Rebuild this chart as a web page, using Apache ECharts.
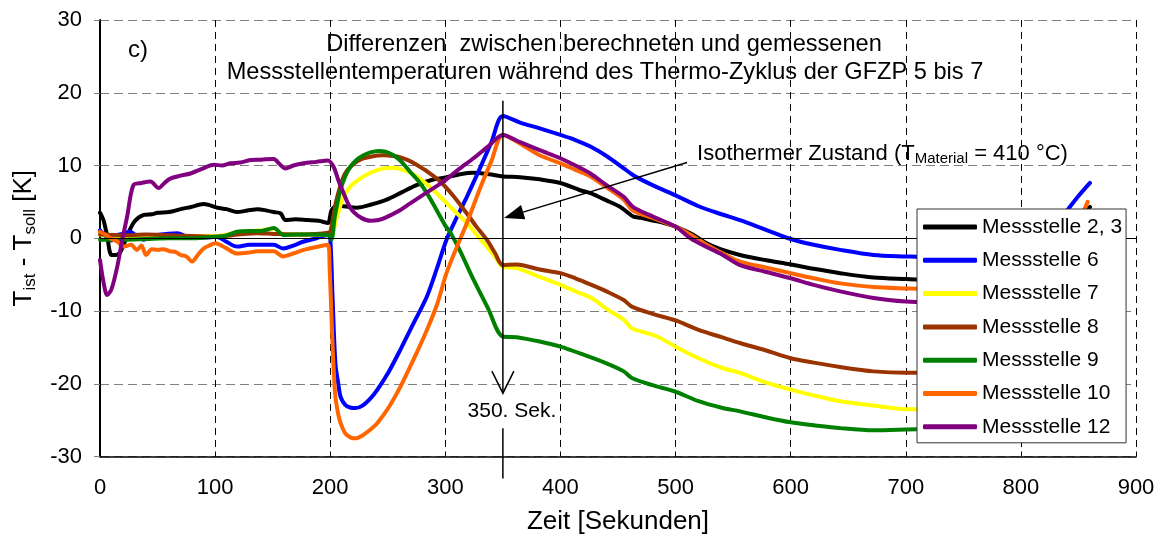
<!DOCTYPE html>
<html>
<head>
<meta charset="utf-8">
<script src="https://cdn.jsdelivr.net/npm/echarts@6/dist/echarts.min.js"></script>
<style>
  html, body { margin: 0; padding: 0; background: #ffffff; }
  #chart { width: 1158px; height: 539px; }
</style>
</head>
<body>
<div id="chart"></div>
<script>
// Axis ranges and tick spacing
const xRange = [0, 900];
const xStep = 100;
const yRange = [-30, 30];
const yStep = 10;

// Messstelle 2, 3
const t23 = [0, 3, 6, 10, 14, 18, 24, 30, 38, 45, 50, 60, 70, 79, 90, 102, 110, 119, 128, 137, 145, 151, 157, 161, 170, 180, 190, 198, 201, 206, 212, 223, 235, 249, 262, 275, 288, 301, 313, 324, 338, 350, 365, 382, 400, 417, 426, 440, 452, 458, 463, 470, 478, 490, 500, 515, 527, 539, 556, 578, 600, 620, 643, 672, 700, 720, 760, 800, 820, 835, 848, 860];
const v23 = [3.5, 2.5, 0.5, -2.3, -2.3, -1.8, 0.5, 2.3, 3.2, 3.3, 3.5, 3.6, 4.0, 4.3, 4.7, 4.2, 4.0, 3.6, 3.8, 4.0, 3.8, 3.6, 3.4, 2.5, 2.6, 2.5, 2.4, 2.1, 3.8, 4.5, 4.4, 4.2, 4.6, 5.3, 6.3, 7.3, 8.0, 8.4, 8.8, 9.0, 8.8, 8.5, 8.4, 8.1, 7.6, 6.6, 6.2, 5.2, 4.3, 3.6, 3.0, 2.8, 2.5, 2.1, 1.6, 0.5, -0.7, -1.5, -2.3, -3.0, -3.6, -4.2, -4.8, -5.4, -5.6, -5.7, -5.6, -5.0, -3.5, -1.0, 2.0, 4.3];

// Messstelle 6
const t6 = [0, 5, 10, 15, 20, 26, 32, 38, 44, 50, 58, 67, 78, 90, 101, 110, 119, 130, 140, 151, 159, 168, 177, 188, 198, 200, 202, 204.5, 207, 209, 213, 218, 222, 228, 235, 241, 251, 261, 272, 284, 293, 301, 310, 319, 330, 340, 350, 365, 382, 400, 413, 426, 440, 455, 462, 466, 480, 500, 520, 540, 556, 578, 600, 620, 643, 672, 700, 720, 760, 800, 815, 828, 841, 850, 860];
const v6 = [1.1, 0.3, -0.3, 0.45, 0.6, 0.9, 0.3, -0.2, 0.2, 0.45, 0.6, 0.7, 0.1, 0.1, 0.2, -0.5, -1.15, -0.9, -0.9, -0.9, -1.4, -1.0, -0.45, 0.0, 0.45, 0.0, -8, -17.2, -20, -21.8, -22.9, -23.3, -23.35, -23.0, -22.0, -20.8, -18.3, -15.3, -11.8, -8.0, -4.0, -0.2, 2.9, 5.8, 9.6, 13.2, 16.8, 15.9, 15.1, 14.2, 13.5, 12.6, 11.3, 9.6, 8.8, 8.4, 7.3, 5.9, 4.4, 3.3, 2.5, 1.2, -0.1, -0.9, -1.6, -2.3, -2.5, -2.6, -2.5, -1.8, -0.5, 1.5, 4.0, 5.8, 7.6];

// Messstelle 7
const t7 = [0, 20, 40, 60, 80, 100, 120, 140, 151, 160, 180, 199, 201, 205, 211.6, 218, 226, 235, 246, 255, 261, 268, 275, 285, 295.6, 307, 318.7, 327, 336, 343, 350, 362, 382, 400, 413, 427, 440, 455, 462, 470, 484, 500, 520, 540, 556, 578, 600, 620, 643, 672, 700, 720, 760, 800, 830, 860];
const v7 = [0.5, 0.2, 0.2, 0.3, 0.3, 0.3, 0.8, 1.1, 1.3, 0.5, 0.5, 0.5, 0.2, 2.5, 5.7, 7.2, 8.2, 9.0, 9.6, 9.7, 9.5, 9.1, 8.5, 7.3, 5.7, 3.9, 2.1, 0.5, -1.15, -2.5, -3.9, -4.1, -5.3, -6.4, -7.3, -8.2, -9.7, -11.2, -12.4, -12.8, -13.5, -14.9, -16.5, -17.8, -18.5, -19.8, -20.8, -21.6, -22.4, -23.0, -23.5, -23.5, -23.4, -23.0, -22.0, -20.0];

// Messstelle 8
const t8 = [0, 20, 40, 60, 80, 100, 120, 136, 151, 170, 199, 201, 205, 211.6, 218, 226, 235, 246, 255, 261, 268, 275, 285, 295.6, 307, 318.7, 327, 336, 343, 350, 362, 382, 400, 413, 427, 440, 455, 462, 480, 500, 520, 540, 556, 578, 600, 620, 643, 672, 700, 720, 760, 800, 830, 860];
const v8 = [0.5, 0.4, 0.5, 0.4, 0.3, 0.2, 0.5, 0.7, 0.6, 0.5, 0.8, 1.5, 5.0, 8.5, 9.9, 10.8, 11.2, 11.4, 11.3, 11.1, 10.7, 10.1, 9.1, 7.8, 5.8, 3.4, 1.6, -0.2, -2.0, -3.7, -3.6, -4.3, -4.8, -5.5, -6.4, -7.3, -8.5, -9.4, -10.4, -11.3, -12.6, -13.6, -14.4, -15.4, -16.5, -17.1, -17.7, -18.3, -18.5, -18.4, -18.3, -18.0, -17.0, -15.5];

// Messstelle 9
const t9 = [0, 20, 40, 60, 80, 100, 110, 119, 130, 140, 151, 159.5, 170, 190, 198.6, 201, 204, 208.8, 213, 217.4, 223, 229, 235, 242, 248, 255, 262, 269.5, 277, 284, 292, 300.5, 304, 313, 324.5, 337, 350, 362, 382, 400, 420, 440, 455, 462, 480, 500, 520, 540, 556, 578, 600, 620, 643, 672, 700, 720, 760, 800, 830, 860];
const v9 = [-0.2, -0.2, -0.1, 0.0, 0.0, 0.2, 0.4, 0.9, 1.0, 1.0, 1.4, 0.45, 0.5, 0.5, 0.45, -0.2, 3.0, 6.6, 8.5, 9.8, 10.8, 11.4, 11.8, 12.0, 11.9, 11.4, 10.5, 9.1, 7.8, 6.2, 4.0, 1.6, 0.9, -1.8, -5.7, -9.6, -13.5, -13.6, -14.2, -14.9, -16.0, -17.2, -18.3, -19.2, -20.2, -21.1, -22.4, -23.3, -23.8, -24.6, -25.3, -25.7, -26.1, -26.4, -26.3, -26.2, -26.0, -25.5, -24.5, -23.0];

// Messstelle 10
const t10 = [0, 5, 9, 15, 21, 27, 32, 36, 40, 45, 50, 55, 61, 66, 70, 75, 80, 85, 90, 95, 100, 110, 119, 128, 137, 145, 151, 159, 168, 177, 188, 198, 199.5, 201.5, 203, 204.5, 207, 209, 213, 218, 222, 228, 235, 241, 251, 261, 272, 284, 293, 301, 310, 319, 330, 340, 350, 365, 382, 400, 413, 426, 440, 455, 463, 480, 500, 513, 527, 540, 556, 578, 600, 620, 643, 672, 700, 720, 760, 800, 820, 835, 848, 858];
const v10 = [0.9, 0.5, 0.0, -0.45, -1.15, -0.9, -1.6, -1.0, -2.3, -1.5, -1.6, -1.5, -1.8, -1.9, -2.3, -2.5, -3.2, -2.3, -1.4, -1.0, -0.7, -1.4, -2.1, -2.0, -1.8, -1.8, -1.8, -2.5, -2.1, -1.6, -1.2, -0.9, -4, -12.6, -18, -21.8, -24.2, -25.4, -26.8, -27.4, -27.5, -27.1, -26.3, -25.4, -23.2, -20.4, -16.8, -12.6, -9, -4.8, -1.2, 2.2, 6.8, 10.6, 14.2, 13.0, 11.4, 10.3, 9.4, 8.5, 7.0, 5.3, 3.8, 2.8, 1.6, 0.5, -0.9, -2.0, -3.2, -4.0, -4.8, -5.5, -6.2, -6.7, -6.9, -7.0, -7.0, -6.3, -4.5, -2.0, 1.5, 5.0];

// Messstelle 12
const t12 = [0, 3, 6.2, 10, 15, 19, 23.6, 29, 36, 43.8, 51, 56, 61, 70, 78.6, 88, 98.8, 106, 113, 122, 130.6, 140, 150.9, 156, 161, 168, 177, 188, 198, 203, 207, 211.6, 216, 220, 227, 234.8, 242, 249, 259, 269.5, 284, 298.4, 311, 324.5, 337, 350, 365, 382, 400, 413, 426, 440, 455, 463, 480, 500, 513, 527, 540, 556, 578, 600, 620, 643, 672, 700, 720, 760, 800, 830, 860];
const v12 = [-3.0, -6.0, -7.8, -7.0, -3.9, -0.5, 3.0, 7.3, 7.6, 7.8, 6.9, 7.6, 8.2, 8.6, 8.9, 9.5, 10.1, 10.0, 10.3, 10.4, 10.75, 10.8, 10.9, 10.2, 9.6, 10.0, 10.3, 10.5, 10.7, 9.8, 8.0, 6.2, 4.6, 3.65, 2.8, 2.4, 2.5, 2.9, 3.7, 4.8, 6.3, 7.8, 9.4, 11.0, 12.6, 14.2, 13.2, 12.1, 11.0, 10.0, 8.9, 7.3, 5.7, 4.3, 3.0, 1.6, 0.0, -1.2, -2.2, -3.7, -4.6, -5.5, -6.4, -7.3, -8.2, -8.7, -8.8, -8.8, -8.5, -7.5, -5.5];

// Series names and colours
const seriesNames = ['Messstelle 2, 3', 'Messstelle 6', 'Messstelle 7', 'Messstelle 8', 'Messstelle 9', 'Messstelle 10', 'Messstelle 12'];
const seriesColors = ['#000000', '#0000ff', '#ffff00', '#993300', '#008000', '#ff6600', '#800080'];
const seriesTimes = [t23, t6, t7, t8, t9, t10, t12];
const seriesValues = [v23, v6, v7, v8, v9, v10, v12];

// Marked instant and annotation
const markTime = 350;
const markLabel = '350. Sek.';

const FONT = '"Liberation Sans", Arial, Helvetica, sans-serif';

const chart = echarts.init(document.getElementById('chart'), null, { renderer: 'canvas' });

const lineSeries = seriesNames.map((name, i) => ({
  name: name,
  type: 'line',
  data: seriesTimes[i].map((t, k) => [t, seriesValues[i][k]]),
  showSymbol: false,
  symbol: 'none',
  smooth: 0.3,
  lineStyle: { color: seriesColors[i], width: 4, cap: 'round', join: 'round' },
  itemStyle: { color: seriesColors[i] },
  z: 3,
  animation: false
}));

// zero reference line beneath the curves
lineSeries.unshift({
  name: 'zero',
  type: 'line',
  data: [],
  z: 1,
  silent: true,
  markLine: {
    silent: true,
    symbol: 'none',
    animation: false,
    label: { show: false },
    lineStyle: { color: '#000', width: 1, type: 'solid' },
    data: [{ yAxis: 0 }]
  }
});

chart.setOption({
  animation: false,
  backgroundColor: '#ffffff',
  textStyle: { fontFamily: FONT },
  grid: { left: 100, right: 22, top: 20, bottom: 82.5, containLabel: false, outerBoundsMode: 'none' },
  xAxis: {
    type: 'value',
    min: xRange[0], max: xRange[1], interval: xStep,
    name: 'Zeit [Sekunden]',
    nameLocation: 'middle',
    nameGap: 52,
    nameTextStyle: { fontSize: 26, color: '#000', fontFamily: FONT },
    axisLine: { show: true, onZero: false, lineStyle: { color: '#000', width: 1.5 } },
    axisTick: { show: true, inside: true, length: 5, lineStyle: { color: '#000', width: 1 } },
    axisLabel: { fontSize: 22, color: '#000', margin: 20, fontFamily: FONT },
    splitLine: { show: true, lineStyle: { color: '#000', width: 1, type: [7, 5] } }
  },
  yAxis: {
    type: 'value',
    min: yRange[0], max: yRange[1], interval: yStep,
    name: '{t|T}{s|ist}{t| - T}{s|soll}{t| [K]}',
    nameLocation: 'middle',
    nameRotate: 90,
    nameGap: 60,
    nameTextStyle: {
      color: '#000',
      rich: {
        t: { fontSize: 26, fontFamily: FONT, color: '#000', lineHeight: 30 },
        s: { fontSize: 17, fontFamily: FONT, color: '#000', lineHeight: 14, verticalAlign: 'bottom' }
      }
    },
    axisLine: { show: true, onZero: false, lineStyle: { color: '#000', width: 2 } },
    axisTick: { show: true, inside: false, length: 6, lineStyle: { color: '#808080', width: 1 } },
    axisLabel: { fontSize: 22, color: '#000', margin: 18, fontFamily: FONT },
    splitLine: { show: true, lineStyle: { color: '#808080', width: 1, type: [9, 5] } }
  },
  legend: {
    orient: 'vertical',
    left: 917,
    top: 209,
    data: seriesNames,
    icon: 'roundRect',
    itemWidth: 54,
    itemHeight: 5,
    itemGap: 9.3,
    padding: [6, 4, 4, 6],
    backgroundColor: '#ffffff',
    borderColor: '#333333',
    borderWidth: 1,
    borderRadius: 0,
    selectedMode: false,
    textStyle: { fontSize: 21, color: '#000', fontFamily: FONT, lineHeight: 24, padding: [0, 0, 0, 0] },
    z: 10
  },
  series: lineSeries
});

// Annotations placed through the chart's own coordinate conversion
function px(t, v) { return chart.convertToPixel({ gridIndex: 0 }, [t, v]); }

const lineTop = px(markTime, 18.9);
const lineArrow = px(markTime, -21.3);
const labelPos = px(markTime, -23.8);
const lowerTop = px(markTime, -26.1);
const axisBottom = px(markTime, yRange[0]);
const lx = lineTop[0];

const tail = px(510, 10.4);
const tip = px(markTime + 1, 2.8);
const dx = tip[0] - tail[0], dy = tip[1] - tail[1];
const len = Math.sqrt(dx * dx + dy * dy);
const ux = dx / len, uy = dy / len;
const headLen = 20, headHalf = 7.5;
const baseX = tip[0] - ux * headLen, baseY = tip[1] - uy * headLen;

chart.setOption({
  graphic: [
    { type: 'text', x: 604, y: 44, silent: true,
      style: { text: 'Differenzen  zwischen berechneten und gemessenen', fontSize: 23.6, fontFamily: FONT, fill: '#000', align: 'center', verticalAlign: 'middle' } },
    { type: 'text', x: 605, y: 72, silent: true,
      style: { text: 'Messstellentemperaturen während des Thermo-Zyklus der GFZP 5 bis 7', fontSize: 23.6, fontFamily: FONT, fill: '#000', align: 'center', verticalAlign: 'middle' } },
    { type: 'text', x: 138, y: 50, silent: true,
      style: { text: 'c)', fontSize: 24, fontFamily: FONT, fill: '#000', align: 'center', verticalAlign: 'middle' } },
    // vertical marker with open arrow head
    { type: 'line', silent: true, z: 20,
      shape: { x1: lx, y1: lineTop[1], x2: lx, y2: lineArrow[1] },
      style: { stroke: '#000', lineWidth: 1.5 } },
    { type: 'polyline', silent: true, z: 20,
      shape: { points: [[lx - 11, lineArrow[1] - 22], [lx, lineArrow[1]], [lx + 11, lineArrow[1] - 22]] },
      style: { stroke: '#000', lineWidth: 1.5, fill: null } },
    { type: 'text', x: lx + 9, y: labelPos[1], silent: true, z: 20,
      style: { text: markLabel, fontSize: 21, fontFamily: FONT, fill: '#000', align: 'center', verticalAlign: 'middle' } },
    { type: 'line', silent: true, z: 20,
      shape: { x1: lx, y1: lowerTop[1], x2: lx, y2: axisBottom[1] + 22 },
      style: { stroke: '#000', lineWidth: 1.5 } },
    // annotation arrow
    { type: 'line', silent: true, z: 20,
      shape: { x1: tail[0], y1: tail[1], x2: baseX, y2: baseY },
      style: { stroke: '#000', lineWidth: 1.5 } },
    { type: 'polygon', silent: true, z: 20,
      shape: { points: [[tip[0], tip[1]], [baseX - uy * headHalf, baseY + ux * headHalf], [baseX + uy * headHalf, baseY - ux * headHalf]] },
      style: { fill: '#000', stroke: null } },
    { type: 'text', x: tail[0] + 10, y: tail[1] - 9, silent: true, z: 20,
      style: {
        text: '{a|Isothermer Zustand (T}{b|Material}{a| = 410 °C)}',
        align: 'left', verticalAlign: 'middle',
        rich: {
          a: { fontSize: 22, fontFamily: FONT, fill: '#000', lineHeight: 26 },
          b: { fontSize: 15, fontFamily: FONT, fill: '#000', lineHeight: 12, verticalAlign: 'bottom' }
        }
      } }
  ]
});
</script>
</body>
</html>
